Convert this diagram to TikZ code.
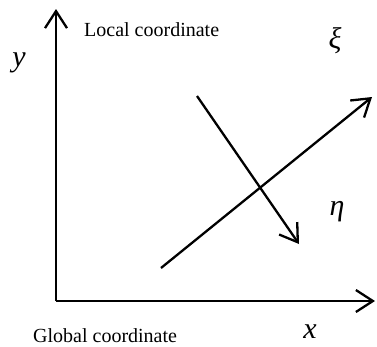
\documentclass[tikz,border=0pt]{standalone}
\usepackage{fontspec}
\setmainfont{Liberation Serif}
\usetikzlibrary{arrows.meta}
\begin{document}
\begin{tikzpicture}[x=1pt,y=-1pt,
  axis/.style={line width=2.3pt,-{Straight Barb[length=17pt,width=22pt,line width=2.3pt]}},
  lbl/.style={font=\fontsize{20}{22}\selectfont,inner sep=0pt},
  sym/.style={font=\fontsize{30}{32}\selectfont\itshape,inner sep=0pt}]
\useasboundingbox (0,0) rectangle (377,346);
\coordinate (O) at (56,301);
\coordinate (Ytip) at (56,9);
\coordinate (Xtip) at (375,301);
\coordinate (xis) at (161,268);
\coordinate (xie) at (372,97);
\coordinate (etas) at (197,96);
\coordinate (etae) at (299,244);
\draw[axis] (O) -- (Ytip);
\draw[axis] (O) -- (Xtip);
\draw[axis] (xis) -- (xie);
\draw[axis] (etas) -- (etae);
\node[lbl,anchor=base west] (loc) at (84,36.5) {Local coordinate};
\node[lbl,anchor=base west] (glob) at (33,342) {Global coordinate};
\node[sym] (ylab) at (19,63) {y};
\node[sym] (xlab) at (310,332) {x};
\node[sym] (xilab) at (335,41) {ξ};
\node[sym] (etalab) at (337,212) {η};
\end{tikzpicture}
\end{document}
